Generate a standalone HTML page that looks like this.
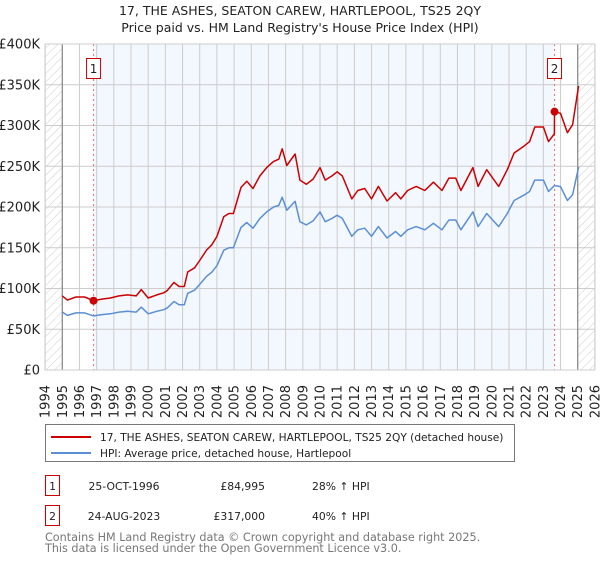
<!DOCTYPE html>
<html><head><meta charset="utf-8">
<style>
body{margin:0;background:#fff;font-family:"DejaVu Sans","Liberation Sans",sans-serif;}
svg text{font-family:"DejaVu Sans","Liberation Sans",sans-serif;}
</style></head>
<body>
<svg id="chart" width="600" height="560" xmlns="http://www.w3.org/2000/svg">
<defs>
<pattern id="hatch" patternUnits="userSpaceOnUse" width="6" height="6" patternTransform="rotate(45)">
<line x1="0" y1="0" x2="0" y2="6" stroke="#ccc" stroke-width="1"/>
</pattern>
</defs>
<text x="300" y="15" text-anchor="middle" font-size="12.5" fill="#222">17, THE ASHES, SEATON CAREW, HARTLEPOOL, TS25 2QY</text>
<text x="300" y="32" text-anchor="middle" font-size="12.5" fill="#222">Price paid vs. HM Land Registry's House Price Index (HPI)</text>
<g id="plot"></g>
<g>
<rect x="45.5" y="424.5" width="469" height="37" fill="#fff" stroke="#777"/>
<line x1="51" y1="437" x2="91" y2="437" stroke="#cc0000" stroke-width="2"/>
<text x="100" y="441" font-size="10.6" fill="#222">17, THE ASHES, SEATON CAREW, HARTLEPOOL, TS25 2QY (detached house)</text>
<line x1="51" y1="453" x2="91" y2="453" stroke="#5b8fd4" stroke-width="2"/>
<text x="100" y="457" font-size="10.6" fill="#222">HPI: Average price, detached house, Hartlepool</text>
</g>
<g font-size="10.8" fill="#222">
<rect x="45.5" y="475.5" width="14" height="20" fill="#fff" stroke="#cc0000"/>
<text x="52.5" y="490" text-anchor="middle">1</text>
<text x="124" y="490" text-anchor="middle">25-OCT-1996</text>
<text x="265" y="490" text-anchor="end">£84,995</text>
<text x="312" y="490">28% ↑ HPI</text>
<rect x="45.5" y="505.5" width="14" height="20" fill="#fff" stroke="#cc0000"/>
<text x="52.5" y="520" text-anchor="middle">2</text>
<text x="124" y="520" text-anchor="middle">24-AUG-2023</text>
<text x="265" y="520" text-anchor="end">£317,000</text>
<text x="312" y="520">40% ↑ HPI</text>
</g>
<text x="45" y="541" font-size="11.2" fill="#777">Contains HM Land Registry data © Crown copyright and database right 2025.</text>
<text x="45" y="552" font-size="11.2" fill="#777">This data is licensed under the Open Government Licence v3.0.</text>
</svg>
<script>
const yTicks=[0,50000,100000,150000,200000,250000,300000,350000,400000];
const yTickLabels=["£0","£50K","£100K","£150K","£200K","£250K","£300K","£350K","£400K"];
const xYears=[1994,1995,1996,1997,1998,1999,2000,2001,2002,2003,2004,2005,2006,2007,2008,2009,2010,2011,2012,2013,2014,2015,2016,2017,2018,2019,2020,2021,2022,2023,2024,2025,2026];
const saleDates=[1996.82,2023.65];
const salePrices=[84995,317000];
const saleLabels=["1","2"];
const hpiYears=[1995.0,1995.3,1995.8,1996.3,1996.82,1997.3,1997.8,1998.3,1998.8,1999.3,1999.6,2000.0,2000.5,2000.9,2001.1,2001.5,2001.8,2002.1,2002.3,2002.7,2003.0,2003.4,2003.7,2004.0,2004.4,2004.7,2004.96,2005.4,2005.74,2006.1,2006.5,2006.9,2007.3,2007.6,2007.8,2008.07,2008.55,2008.83,2009.2,2009.6,2010.0,2010.3,2010.7,2011.0,2011.3,2011.85,2012.2,2012.6,2013.0,2013.4,2013.9,2014.4,2014.7,2015.1,2015.6,2016.1,2016.6,2017.1,2017.5,2017.9,2018.2,2018.9,2019.2,2019.7,2020.4,2020.9,2021.3,2021.9,2022.2,2022.5,2023.0,2023.3,2023.65,2024.0,2024.4,2024.7,2025.05];
const hpiValues=[71,67,70,70,66.4,68,69,71,72,71,77,69,72,74,76,84,80,80,94,98,105,115,120,128,147,150,150,175,181,174,186,194,200,202,212,196,207,182,178,183,194,182,186,190,186,164,172,174,164,176,162,170,164,172,176,172,180,172,184,184,172,194,176,192,176,192,208,215,219,233,233,219,226.4,225,208,215,249];
const paidYears=[1995.0,1995.3,1995.8,1996.3,1996.82,1997.3,1997.8,1998.3,1998.8,1999.3,1999.6,2000.0,2000.5,2000.9,2001.1,2001.5,2001.8,2002.1,2002.3,2002.7,2003.0,2003.4,2003.7,2004.0,2004.4,2004.7,2004.96,2005.4,2005.74,2006.1,2006.5,2006.9,2007.3,2007.6,2007.8,2008.07,2008.55,2008.83,2009.2,2009.6,2010.0,2010.3,2010.7,2011.0,2011.3,2011.85,2012.2,2012.6,2013.0,2013.4,2013.9,2014.4,2014.7,2015.1,2015.6,2016.1,2016.6,2017.1,2017.5,2017.9,2018.2,2018.9,2019.2,2019.7,2020.4,2020.9,2021.3,2021.9,2022.2,2022.5,2023.0,2023.3,2023.64,2023.65,2024.0,2024.4,2024.7,2025.05];
const paidValues=[90.9,85.8,89.6,89.6,85.0,87,88.3,90.9,92.2,90.9,98.6,88.3,92.2,94.7,97.3,107.5,102.4,102.4,120.3,125.4,134.4,147.2,153.6,163.8,188.2,192,192,224,231.7,222.7,238.1,248.3,256,258.6,271.4,250.9,265,233,227.8,234.2,248.3,233,238.1,243.2,238.1,209.9,220.2,222.7,209.9,225.3,207.4,217.6,209.9,220.2,225.3,220.2,230.4,220.2,235.5,235.5,220.2,248.3,225.3,245.8,225.3,245.8,266.2,275.2,280.3,298.2,298.2,280.3,289.8,317,315,291.2,301,348.6];

const NS="http://www.w3.org/2000/svg";
const L=45.1,R=594.9,T=44,B=370;
const x=y=>L+(y-1994)/(2026-1994)*(R-L);
const yv=v=>B-v/400000*(B-T);
const g=document.getElementById('plot');
function mk(tag,attrs){const e=document.createElementNS(NS,tag);for(const k in attrs)e.setAttribute(k,attrs[k]);g.appendChild(e);return e;}

let e;
e=mk('rect',{x:L,y:T,width:R-L,height:B-T,fill:'#fff'});


e=mk('rect',{x:x(saleDates[0]),y:T,width:x(saleDates[1])-x(saleDates[0]),height:B-T,fill:'#f3f7fe'});


e=mk('rect',{x:x(1994),y:T,width:x(1995)-x(1994),height:B-T,fill:'url(#hatch)'});


e=mk('rect',{x:x(2025),y:T,width:x(2026)-x(2025),height:B-T,fill:'url(#hatch)'});



xYears.forEach(yr=>{
  e=mk('line',{x1:x(yr),x2:x(yr),y1:T,y2:B,stroke:'#ccc','stroke-width':1});
  
  
  const X=x(yr)+4.5;
  e=mk('text',{x:X,y:385,transform:`rotate(-90 ${X} 385)`,'text-anchor':'end','font-size':13,fill:'#222'});
  e.textContent=yr;
  
  
});
yTicks.forEach((v,i)=>{
  e=mk('line',{x1:L,x2:R,y1:yv(v),y2:yv(v),stroke:'#ccc','stroke-width':1});
  
  
  e=mk('text',{x:40,y:yv(v)+4.5,'text-anchor':'end','font-size':13,fill:'#222'});
  e.textContent=yTickLabels[i];
  
  
});
e=mk('line',{x1:x(1995),x2:x(1995),y1:T,y2:B,stroke:'#888','stroke-width':1.2});


e=mk('line',{x1:x(2025),x2:x(2025),y1:T,y2:B,stroke:'#888','stroke-width':1.2});



saleDates.forEach((d,i)=>{
  e=mk('line',{x1:x(d),x2:x(d),y1:T,y2:B,stroke:'#f07070','stroke-width':1,'stroke-dasharray':'2,3'});
  
  
});

let p=hpiYears.map((yr,i)=>`${i?'L':'M'}${x(yr).toFixed(1)},${yv(hpiValues[i]*1000).toFixed(1)}`).join('');
e=mk('path',{d:p,fill:'none',stroke:'#5b8fd4','stroke-width':1.5,'stroke-linejoin':'round'});


p=paidYears.map((yr,i)=>`${i?'L':'M'}${x(yr).toFixed(1)},${yv(paidValues[i]*1000).toFixed(1)}`).join('');
e=mk('path',{d:p,fill:'none',stroke:'#cc0000','stroke-width':1.5,'stroke-linejoin':'round'});



saleDates.forEach((d,i)=>{
  e=mk('circle',{cx:x(d),cy:yv(salePrices[i]),r:4,fill:'#cc0000'});
  
  
  e=mk('rect',{x:x(d)-7,y:58.5,width:14,height:20,fill:'#fff',stroke:'#cc0000'});
  
  
  e=mk('text',{x:x(d),y:73,'text-anchor':'middle','font-size':12,fill:'#222'});
  e.textContent=saleLabels[i];
  
  
});
e=mk('rect',{x:L,y:T,width:R-L,height:B-T,fill:'none',stroke:'#ccc'});


</script>
</body></html>
